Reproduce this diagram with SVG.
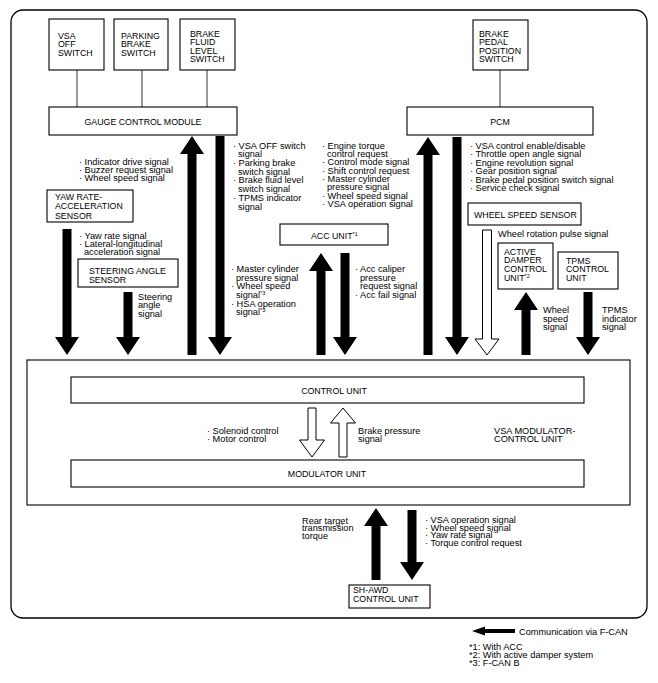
<svg xmlns="http://www.w3.org/2000/svg" width="658" height="683" viewBox="0 0 658 683">
<style>
.box{fill:#fff;stroke:#000;stroke-width:1.1}
.frame{fill:none;stroke:#000;stroke-width:1.3}
.t{font-family:"Liberation Sans",Arial,Helvetica,sans-serif;font-size:9.2px;fill:#000}
.u{font-size:8.8px}
.sup{font-size:5.5px}
.solid{fill:#000}
.hollow{fill:#fff;stroke:#000;stroke-width:1}
.ln{stroke:#000;stroke-width:0.8;fill:none}
</style>
<rect width="658" height="683" fill="#fff"/>
<rect class="frame" x="11" y="10" width="636" height="608" rx="12"/>

<g id="vsa-off-switch">
<rect class="box" x="49" y="19" width="55" height="51"/>
<text class="t u" x="58" y="38.5">VSA</text>
<text class="t u" x="58" y="47.2">OFF</text>
<text class="t u" x="58" y="56">SWITCH</text>
</g>
<g id="parking-brake-switch">
<rect class="box" x="114" y="19" width="54" height="51"/>
<text class="t u" x="121" y="38.5">PARKING</text>
<text class="t u" x="121" y="47.2">BRAKE</text>
<text class="t u" x="121" y="56">SWITCH</text>
</g>
<g id="brake-fluid-level-switch">
<rect class="box" x="180" y="19" width="55" height="51"/>
<text class="t u" x="190" y="36.5">BRAKE</text>
<text class="t u" x="190" y="45">FLUID</text>
<text class="t u" x="190" y="53.5">LEVEL</text>
<text class="t u" x="190" y="62">SWITCH</text>
</g>
<g id="gauge-control-module">
<rect class="box" x="49" y="107" width="188" height="28"/>
<text class="t u" x="143" y="124.5" text-anchor="middle">GAUGE CONTROL MODULE</text>
</g>
<g id="brake-pedal-position-switch">
<rect class="box" x="473" y="20" width="55" height="50"/>
<text class="t u" x="479" y="36.5">BRAKE</text>
<text class="t u" x="479" y="45">PEDAL</text>
<text class="t u" x="479" y="53.5">POSITION</text>
<text class="t u" x="479" y="62">SWITCH</text>
</g>
<g id="pcm">
<rect class="box" x="407" y="107" width="186" height="28"/>
<text class="t u" x="500" y="124.5" text-anchor="middle">PCM</text>
</g>
<g id="yaw-rate-sensor">
<rect class="box" x="47" y="190" width="86" height="32"/>
<text class="t u" x="55" y="199.5">YAW RATE-</text>
<text class="t u" x="55" y="209">ACCELERATION</text>
<text class="t u" x="55" y="218.5">SENSOR</text>
</g>
<g id="steering-angle-sensor">
<rect class="box" x="78" y="259" width="100" height="28"/>
<text class="t u" x="89" y="273.5">STEERING ANGLE</text>
<text class="t u" x="89" y="282.5">SENSOR</text>
</g>
<g id="acc-unit">
<rect class="box" x="280" y="224" width="108" height="21"/>
<text class="t u" x="311" y="238.5">ACC UNIT<tspan class="sup" dy="-3">*1</tspan></text>
</g>
<g id="wheel-speed-sensor">
<rect class="box" x="468" y="203" width="113" height="22"/>
<text class="t u" x="474" y="217.5">WHEEL SPEED SENSOR</text>
</g>
<g id="active-damper-control-unit">
<rect class="box" x="498" y="243" width="55" height="46"/>
<text class="t u" x="504" y="254.5">ACTIVE</text>
<text class="t u" x="504" y="263.3">DAMPER</text>
<text class="t u" x="504" y="272.1">CONTROL</text>
<text class="t u" x="504" y="281">UNIT<tspan class="sup" dy="-3">*2</tspan></text>
</g>
<g id="tpms-control-unit">
<rect class="box" x="558" y="252" width="60" height="37"/>
<text class="t u" x="566" y="263.5">TPMS</text>
<text class="t u" x="566" y="272.2">CONTROL</text>
<text class="t u" x="566" y="281">UNIT</text>
</g>
<g id="vsa-modulator-control-unit">
<rect class="box" x="27" y="360" width="603" height="145"/>
<text class="t" x="494" y="433.5">VSA MODULATOR-</text>
<text class="t" x="494" y="441.5">CONTROL UNIT</text>
</g>
<g id="control-unit">
<rect class="box" x="71" y="377" width="513" height="26"/>
<text class="t u" x="334" y="393.5" text-anchor="middle">CONTROL UNIT</text>
</g>
<g id="modulator-unit">
<rect class="box" x="71" y="460" width="513" height="27"/>
<text class="t u" x="327" y="477" text-anchor="middle">MODULATOR UNIT</text>
</g>
<g id="sh-awd-control-unit">
<rect class="box" x="349" y="585" width="81" height="23"/>
<text class="t u" x="353" y="593">SH-AWD</text>
<text class="t u" x="353" y="601.5">CONTROL UNIT</text>
</g>

<g id="connectors">
<line class="ln" x1="77" y1="70" x2="77" y2="107"/>
<line class="ln" x1="142" y1="70" x2="142" y2="107"/>
<line class="ln" x1="207" y1="70" x2="207" y2="107"/>
<line class="ln" x1="500" y1="70" x2="500" y2="107"/>
<polygon class="solid" points="62.5,229 71.5,229 71.5,337 79,337 67,355 55,337 62.5,337"/>
<polygon class="solid" points="123.5,292 132.5,292 132.5,337 140,337 128,355 116,337 123.5,337"/>
<polygon class="solid" points="192,136 204,154 196.5,154 196.5,355 187.5,355 187.5,154 180,154"/>
<polygon class="solid" points="215.5,136 224.5,136 224.5,337 232,337 220,355 208,337 215.5,337"/>
<polygon class="solid" points="321,253 333,271 325.5,271 325.5,355 316.5,355 316.5,271 309,271"/>
<polygon class="solid" points="340.5,253 349.5,253 349.5,337 357,337 345,355 333,337 340.5,337"/>
<polygon class="solid" points="428,137 440,155 432.5,155 432.5,355 423.5,355 423.5,155 416,155"/>
<polygon class="solid" points="452.5,137 461.5,137 461.5,337 469,337 457,355 445,337 452.5,337"/>
<polygon class="hollow" points="482.5,230 491.5,230 491.5,339 499,339 487,355 475,339 482.5,339"/>
<polygon class="solid" points="526,292 538,310 530.5,310 530.5,355 521.5,355 521.5,310 514,310"/>
<polygon class="solid" points="583.5,292 592.5,292 592.5,337 600,337 588,355 576,337 583.5,337"/>
<polygon class="hollow" points="308,408 316,408 316,440 324.5,440 312,457 299.5,440 308,440"/>
<polygon class="hollow" points="343,408 355.5,423 347,423 347,457 339,457 339,423 330.5,423"/>
<polygon class="solid" points="376,508 388,526 380.5,526 380.5,580 371.5,580 371.5,526 364,526"/>
<polygon class="solid" points="407.5,510 416.5,510 416.5,562 424,562 412,580 400,562 407.5,562"/>
</g>

<g id="labels">
<text class="t" x="79" y="164.5">· Indicator drive signal</text>
<text class="t" x="79" y="172.5">· Buzzer request signal</text>
<text class="t" x="79" y="180.5">· Wheel speed signal</text>

<text class="t" x="79" y="238.5">· Yaw rate signal</text>
<text class="t" x="79" y="246.5">· Lateral-longitudinal</text>
<text class="t" x="84" y="254.5">acceleration signal</text>

<text class="t" x="138" y="299.5">Steering</text>
<text class="t" x="138" y="308">angle</text>
<text class="t" x="138" y="316.5">signal</text>

<text class="t" x="233" y="148.5">· VSA OFF switch</text>
<text class="t" x="238" y="157">signal</text>
<text class="t" x="233" y="165.8">· Parking brake</text>
<text class="t" x="238" y="174.5">switch signal</text>
<text class="t" x="233" y="183.2">· Brake fluid level</text>
<text class="t" x="238" y="192">switch signal</text>
<text class="t" x="233" y="200.8">· TPMS indicator</text>
<text class="t" x="238" y="209.5">signal</text>

<text class="t" x="322" y="148.5">· Engine torque</text>
<text class="t" x="327" y="156.8">control request</text>
<text class="t" x="322" y="165.2">· Control mode signal</text>
<text class="t" x="322" y="173.5">· Shift control request</text>
<text class="t" x="322" y="181.8">· Master cylinder</text>
<text class="t" x="327" y="190.2">pressure signal</text>
<text class="t" x="322" y="198.5">· Wheel speed signal</text>
<text class="t" x="322" y="206.8">· VSA operation signal</text>

<text class="t" x="231" y="272">· Master cylinder</text>
<text class="t" x="236" y="280.6">pressure signal</text>
<text class="t" x="231" y="289.2">· Wheel speed</text>
<text class="t" x="236" y="297.8">signal<tspan class="sup" dy="-3">*3</tspan></text>
<text class="t" x="231" y="306.6">· HSA operation</text>
<text class="t" x="236" y="315.2">signal<tspan class="sup" dy="-3">*3</tspan></text>

<text class="t" x="355" y="272">· Acc caliper</text>
<text class="t" x="360" y="280.5">pressure</text>
<text class="t" x="360" y="289">request signal</text>
<text class="t" x="355" y="297.5">· Acc fail signal</text>

<text class="t" x="470" y="148.5">· VSA control enable/disable</text>
<text class="t" x="470" y="157">· Throttle open angle signal</text>
<text class="t" x="470" y="165.5">· Engine revolution signal</text>
<text class="t" x="470" y="174">· Gear position signal</text>
<text class="t" x="470" y="182.5">· Brake pedal position switch signal</text>
<text class="t" x="470" y="191">· Service check signal</text>

<text class="t" x="498" y="237">Wheel rotation pulse signal</text>

<text class="t" x="543" y="313">Wheel</text>
<text class="t" x="543" y="321.5">speed</text>
<text class="t" x="543" y="330">signal</text>
<text class="t" x="602" y="313">TPMS</text>
<text class="t" x="602" y="321.5">indicator</text>
<text class="t" x="602" y="330">signal</text>

<text class="t" x="207" y="433.5">· Solenoid control</text>
<text class="t" x="207" y="441.5">· Motor control</text>
<text class="t" x="358" y="433.5">Brake pressure</text>
<text class="t" x="358" y="441.5">signal</text>

<text class="t" x="302" y="523.5">Rear target</text>
<text class="t" x="302" y="531">transmission</text>
<text class="t" x="302" y="538.5">torque</text>

<text class="t" x="425" y="523">· VSA operation signal</text>
<text class="t" x="425" y="530.6">· Wheel speed signal</text>
<text class="t" x="425" y="538.2">· Yaw rate signal</text>
<text class="t" x="425" y="545.8">· Torque control request</text>
</g>

<g id="legend">
<polygon class="solid" points="472,631 485,626.5 485,629 515,629 515,633 485,633 485,635.5"/>
<text class="t" x="519" y="634.5">Communication via F-CAN</text>
<text class="t" x="469" y="650">*1: With ACC</text>
<text class="t" x="469" y="658">*2: With active damper system</text>
<text class="t" x="469" y="666">*3: F-CAN B</text>
</g>
</svg>
